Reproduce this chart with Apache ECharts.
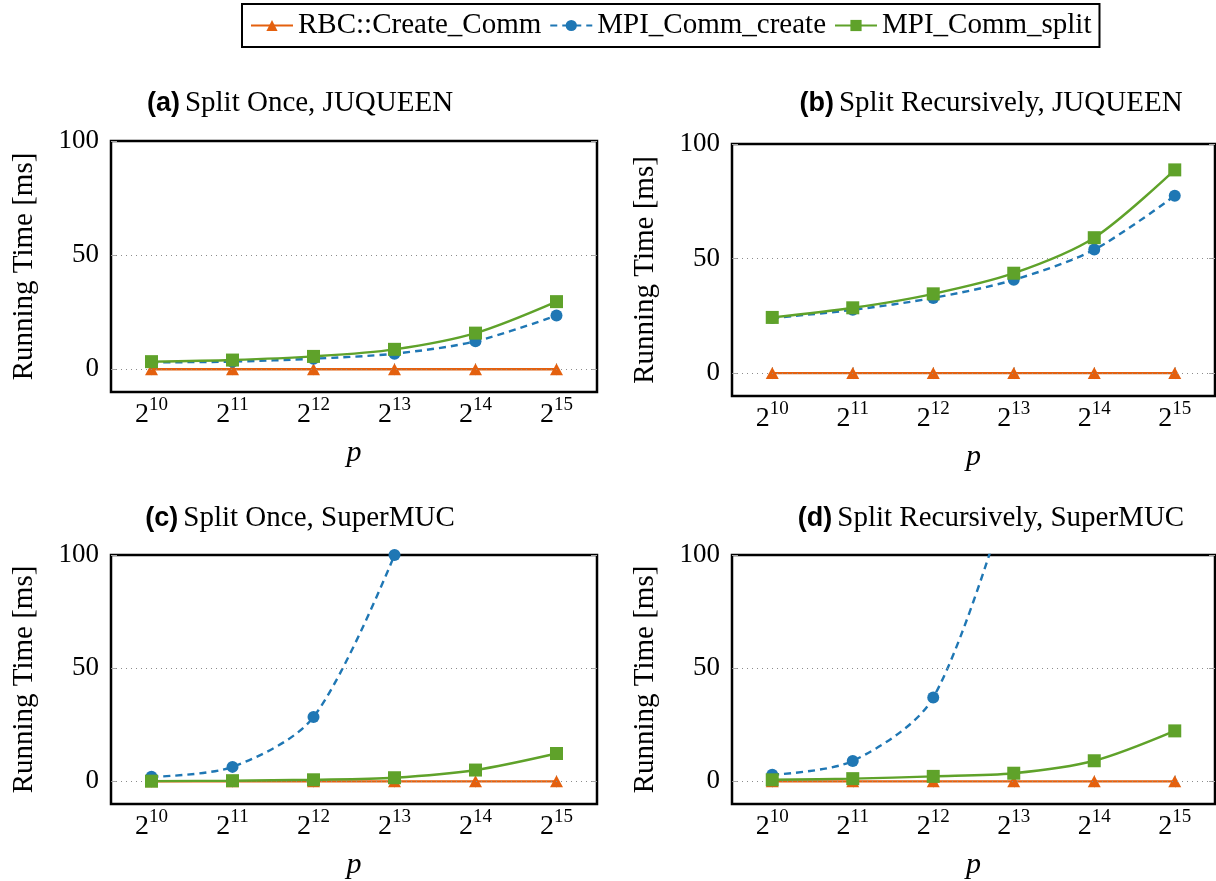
<!DOCTYPE html>
<html>
<head>
<meta charset="utf-8">
<script src="https://cdn.jsdelivr.net/npm/echarts@6/dist/echarts.min.js"></script>
<style>
html,body{margin:0;padding:0;background:#ffffff;}
#chart{width:1216px;height:881px;}
</style>
</head>
<body>
<div id="chart"></div>
<script>
// ---------- data ----------
const categories = ['10', '11', '12', '13', '14', '15'];   // p = 2^k
const seriesNames = ['RBC::Create_Comm', 'MPI_Comm_create', 'MPI_Comm_split'];
const yTickValues = [0, 50, 100];
const gridValues = [0, 50];
const panelTags = ['(a)', '(b)', '(c)', '(d)'];
const panelTitles = ['Split Once, JUQUEEN', 'Split Recursively, JUQUEEN', 'Split Once, SuperMUC', 'Split Recursively, SuperMUC'];

const rbcA    = [0, 0, 0, 0, 0, 0];
const createA = [3.0, 3.3, 4.6, 6.8, 12.2, 23.5];
const splitA  = [3.3, 4.0, 5.6, 8.7, 15.8, 29.6];

const rbcB    = [0, 0, 0, 0, 0, 0];
const createB = [24.0, 27.6, 32.8, 40.7, 53.9, 77.4];
const splitB  = [24.3, 28.5, 34.6, 43.6, 59.1, 88.7];

const rbcC    = [0, 0, 0, 0, 0, 0];
const createC = [2.0, 6.4, 28.4, 100, null, null];
const splitC  = [0.1, 0.3, 0.7, 1.6, 5.0, 12.3];

const rbcD    = [0, 0, 0, 0, 0, 0];
const createD = [2.9, 9.0, 37.0, 135, null, null];
const splitD  = [0.7, 1.2, 2.2, 3.6, 9.1, 22.3];

const panelData = [
  [rbcA, createA, splitA],
  [rbcB, createB, splitB],
  [rbcC, createC, splitC],
  [rbcD, createD, splitD]
];

// ---------- styling / layout ----------
const SERIF = 'Liberation Serif';
const SANS = 'Liberation Sans';
const colors = ['#E4600E', '#1F77B4', '#5FA22A'];
const symbols = ['triangle', 'circle', 'rect'];
const symbolSizes = [[13, 12], 12, 13];
const dashes = ['solid', [7, 5], 'solid'];

const grids = [
  {left: 111, top: 141, width: 486, height: 251},
  {left: 732, top: 144, width: 483, height: 252},
  {left: 111, top: 555, width: 486, height: 252},
  {left: 732, top: 555, width: 483, height: 252}
];
const titlePos = [
  {left: 295, top: 84},
  {left: 986, top: 84},
  {left: 295, top: 499},
  {left: 986, top: 499}
];

const tickStyle = {color: '#a8a8a8', width: 1};

const option = {
  backgroundColor: '#ffffff',
  animation: false,
  legend: {
    data: seriesNames,
    left: 242, top: 4,
    padding: [7, 8, 7, 8],
    itemGap: 8,
    itemWidth: 42,
    itemHeight: 14,
    borderColor: '#000',
    borderWidth: 2,
    textStyle: {fontFamily: SERIF, fontSize: 29, color: '#000'}
  },
  title: [],
  grid: [],
  xAxis: [],
  yAxis: [],
  series: []
};

grids.forEach((g, i) => {
  option.grid.push(Object.assign({show: true, borderColor: '#000', borderWidth: 2.5, backgroundColor: 'transparent', containLabel: false}, g));
  option.title.push({
    left: titlePos[i].left, top: titlePos[i].top, textAlign: 'center',
    text: '{b|' + panelTags[i] + '} {n|' + panelTitles[i] + '}',
    textStyle: {
      fontWeight: 'normal',
      rich: {
        b: {fontFamily: SANS, fontWeight: 'bold', fontSize: 27, color: '#000'},
        n: {fontFamily: SERIF, fontWeight: 'normal', fontSize: 29, color: '#000'}
      }
    }
  });
  // bottom x axis
  option.xAxis.push({
    gridIndex: i, type: 'category', data: categories, boundaryGap: true, position: 'bottom',
    axisLine: {show: false},
    axisTick: {show: true, inside: true, alignWithLabel: true, length: 6, lineStyle: tickStyle},
    axisLabel: {
      margin: 9,
      formatter: v => '{b|2}{s|' + v + '}',
      rich: {
        b: {fontFamily: SERIF, fontSize: 28, lineHeight: 28, color: '#000'},
        s: {fontFamily: SERIF, fontSize: 19, lineHeight: 16, padding: [0, 0, 20, 0], color: '#000'}
      }
    },
    splitLine: {show: false},
    name: 'p', nameLocation: 'middle', nameGap: 46,
    nameTextStyle: {fontFamily: SERIF, fontStyle: 'italic', fontSize: 30, color: '#000'}
  });
  // top x axis (ticks only)
  option.xAxis.push({
    gridIndex: i, type: 'category', data: categories, boundaryGap: true, position: 'top',
    axisLine: {show: false},
    axisTick: {show: true, inside: true, alignWithLabel: true, length: 6, lineStyle: tickStyle},
    axisLabel: {show: false},
    splitLine: {show: false}
  });
  // left y axis
  option.yAxis.push({
    gridIndex: i, type: 'value', min: -10, max: 100, position: 'left',
    axisLine: {show: false},
    axisTick: {show: true, inside: true, length: 6, lineStyle: tickStyle, customValues: yTickValues},
    axisLabel: {customValues: yTickValues, margin: 12, fontFamily: SERIF, fontSize: 27, color: '#000'},
    splitLine: {show: false},
    name: 'Running Time [ms]', nameLocation: 'middle', nameGap: 72, nameRotate: 90,
    nameTextStyle: {fontFamily: SERIF, fontSize: 29, color: '#000'}
  });
  // right y axis (ticks only)
  option.yAxis.push({
    gridIndex: i, type: 'value', min: -10, max: 100, position: 'right',
    axisLine: {show: false},
    axisTick: {show: true, inside: true, length: 6, lineStyle: tickStyle, customValues: yTickValues},
    axisLabel: {show: false},
    splitLine: {show: false}
  });
  // dotted grid lines
  option.series.push({
    type: 'line', name: 'grid' + i, xAxisIndex: i * 2, yAxisIndex: i * 2, data: [], z: 1,
    silent: true,
    markLine: {
      silent: true, symbol: ['none', 'none'], label: {show: false},
      lineStyle: {type: [1, 4], color: '#8c8c8c', width: 1},
      data: gridValues.map(v => ({yAxis: v}))
    }
  });
  panelData[i].forEach((arr, k) => {
    option.series.push({
      type: 'line', name: seriesNames[k], xAxisIndex: i * 2, yAxisIndex: i * 2,
      data: arr, smooth: 0.3, clip: true, connectNulls: false,
      symbol: symbols[k], symbolSize: symbolSizes[k], showSymbol: true,
      color: colors[k],
      itemStyle: {color: colors[k]},
      lineStyle: {color: colors[k], width: 2.4, type: dashes[k]},
      z: 3 + k
    });
  });
});

const chart = echarts.init(document.getElementById('chart'), null, {renderer: 'canvas'});
chart.setOption(option);
</script>
</body>
</html>
